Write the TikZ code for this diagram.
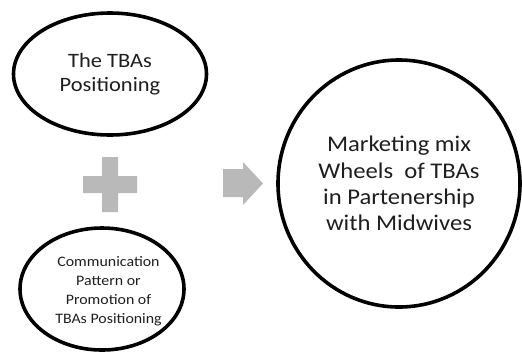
\documentclass[tikz,border=0pt]{standalone}
\usepackage{fontspec}
\setmainfont{Carlito}[FakeStretch=1.1]
\usetikzlibrary{shapes.geometric}
\definecolor{symgray}{RGB}{185,185,185}
\definecolor{txt}{RGB}{30,30,30}
\tikzset{
  oval/.style={draw=black, line width=3.6pt, ellipse, inner sep=0pt, text=txt, align=center},
  symbol/.style={fill=symgray, draw=none}
}
\begin{document}
\begin{tikzpicture}[x=1bp,y=-1bp]
\useasboundingbox (0,0) rectangle (522,353);
\node[oval, minimum width=193bp, minimum height=122bp,
      font=\fontsize{20.5}{24}\selectfont] (top) at (110,74) {The TBAs\\Positioning};
\node[oval, minimum width=164bp, minimum height=122bp] (bottom) at (102,289) {};
\node[text=txt, align=center, inner sep=0pt, font=\fontsize{14.5}{19}\selectfont]
      (bottomtext) at (108.5,291) {Communication\\Pattern or\\Promotion of\\TBAs Positioning};
\node[oval, minimum width=242bp, minimum height=247bp,
      font=\fontsize{22.5}{26.5}\selectfont] (wheel) at (399,183.5)
      {Marketing mix\\Wheels \ of TBAs\\in Partenership\\with Midwives};
% plus sign
\fill[symbol] (102,157) -- (118,157) -- (118,176) -- (137,176) -- (137,193) -- (118,193)
  -- (118,212) -- (102,212) -- (102,193) -- (83,193) -- (83,176) -- (102,176) -- cycle;
% arrow
\fill[symbol] (223,169) -- (243,169) -- (243,162) -- (263,183.5) -- (243,205) -- (243,197)
  -- (223,197) -- cycle;
\end{tikzpicture}
\end{document}
